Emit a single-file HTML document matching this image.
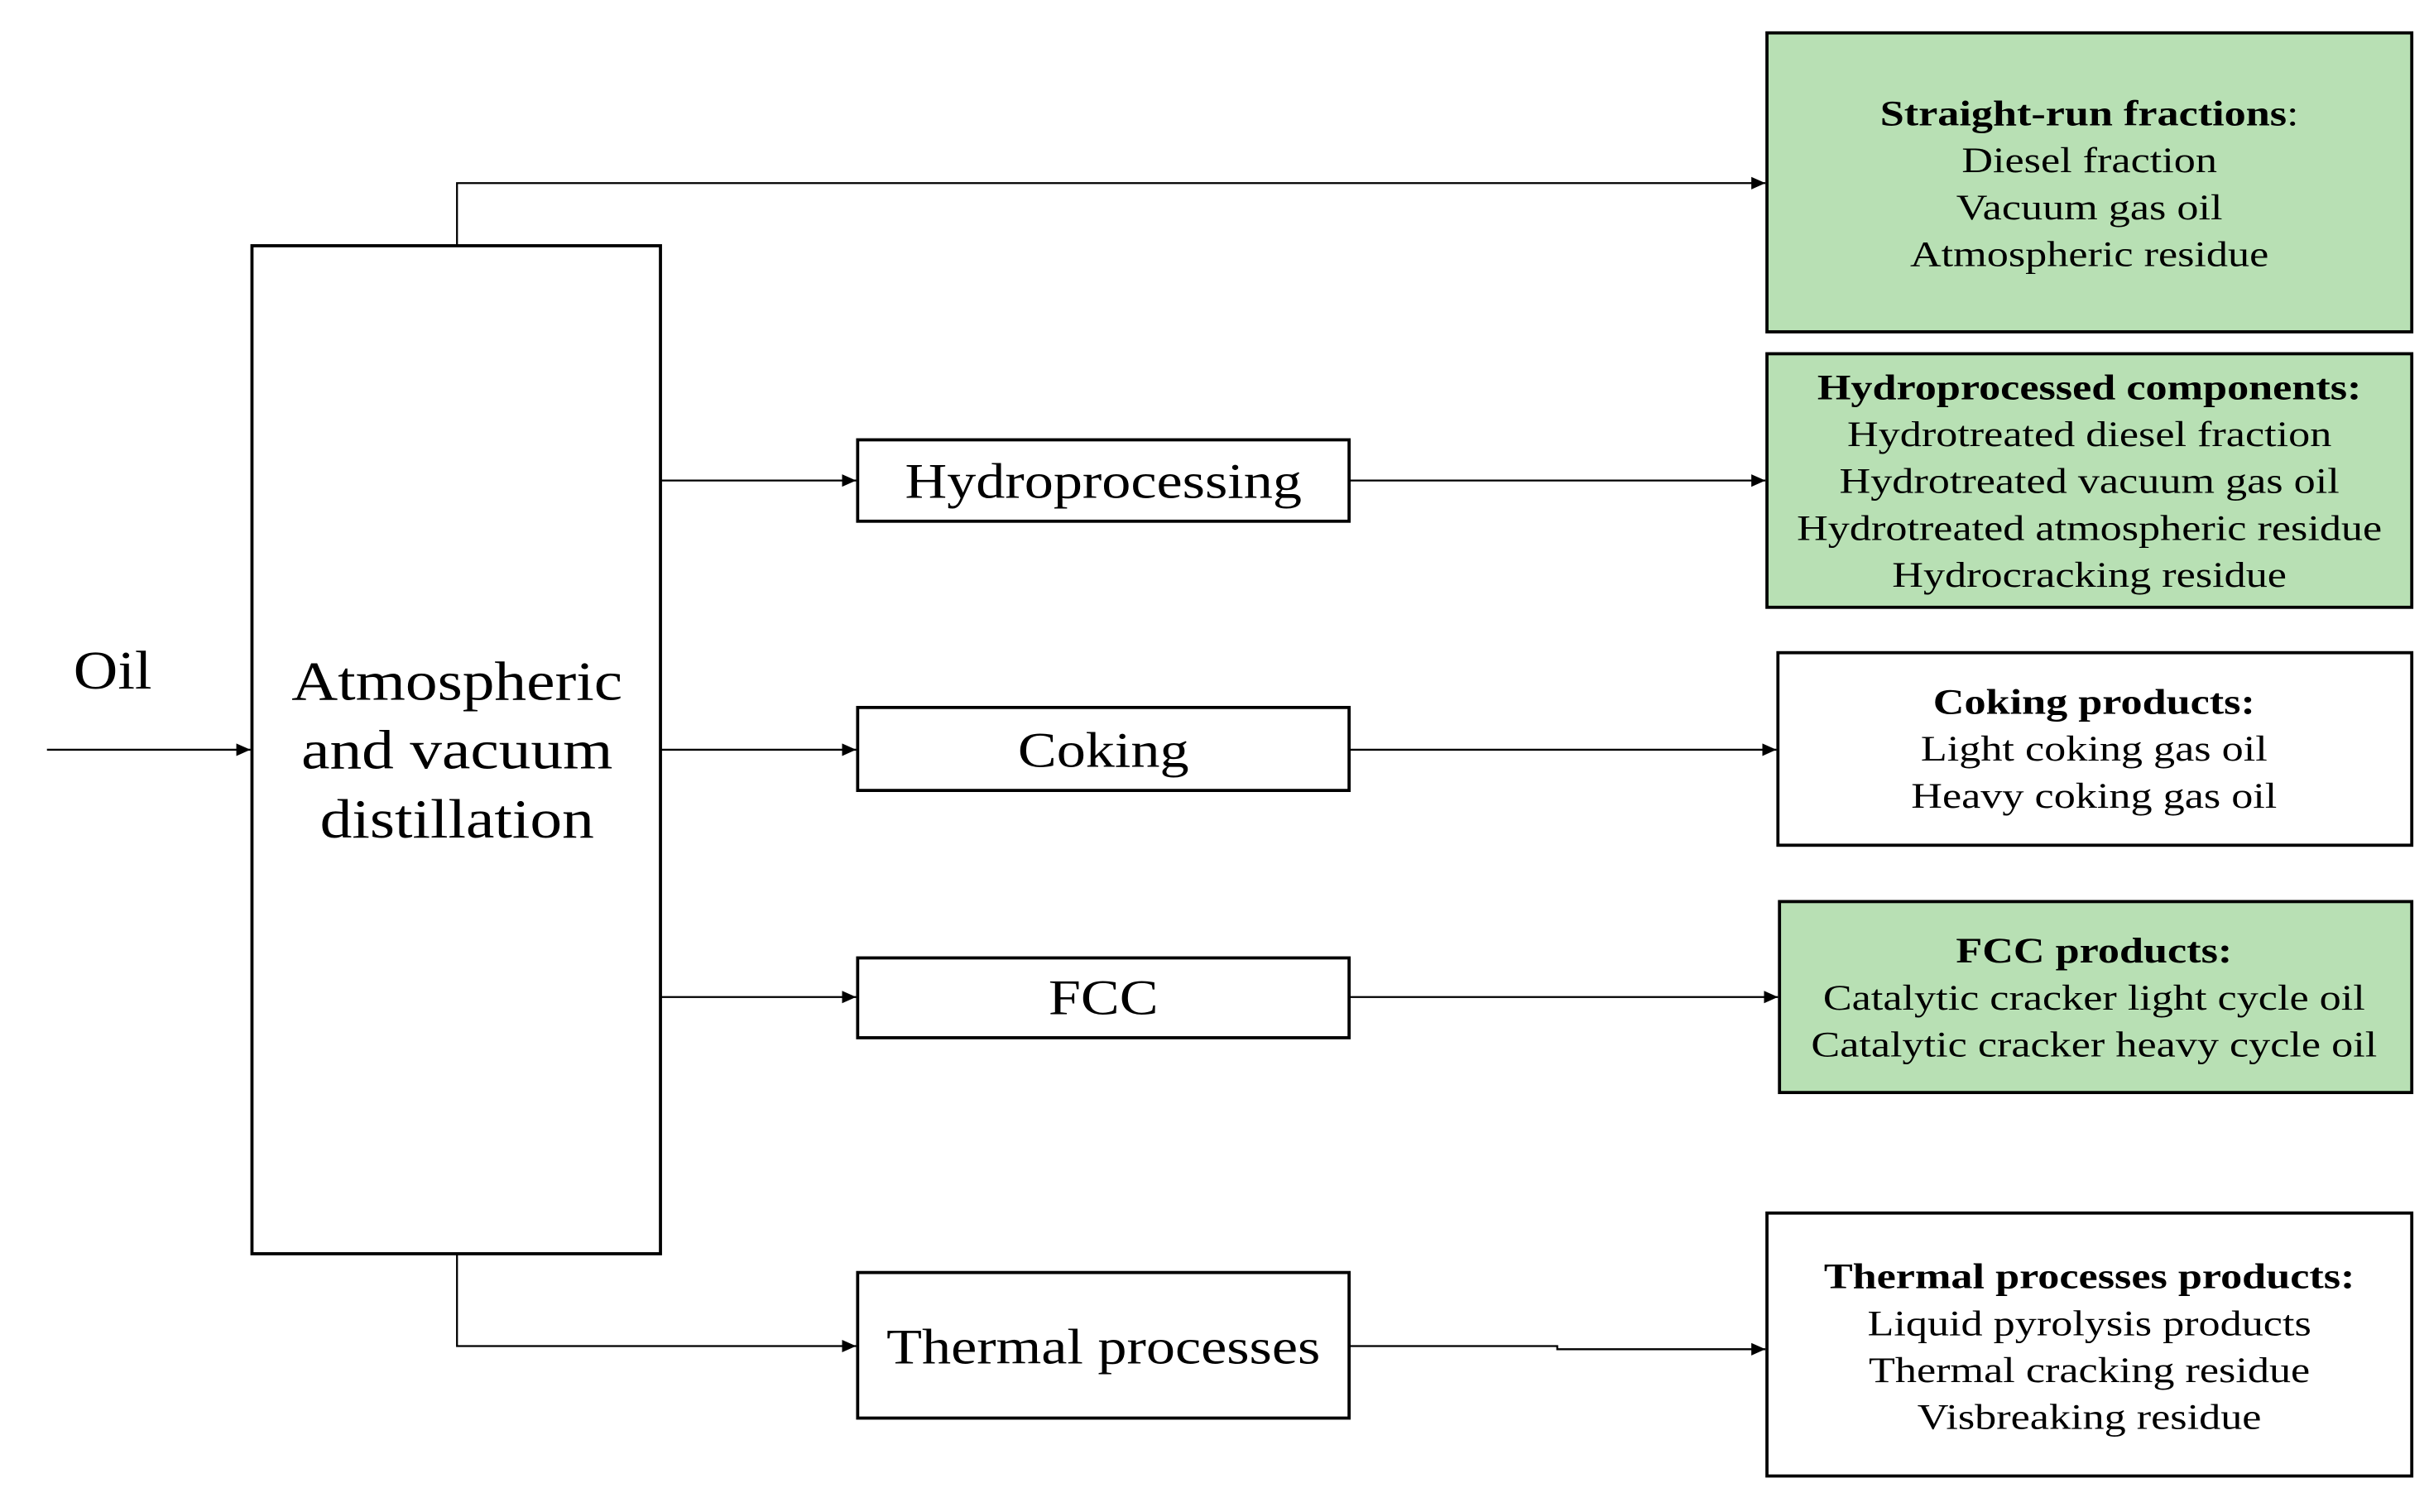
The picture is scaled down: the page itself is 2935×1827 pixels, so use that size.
<!DOCTYPE html>
<html><head><meta charset="utf-8"><style>html,body{margin:0;padding:0;background:#fff}svg{display:block}</style></head>
<body>
<svg width="2935" height="1827" viewBox="0 0 1552 966" preserveAspectRatio="none" xmlns="http://www.w3.org/2000/svg" font-family="'Liberation Serif', serif">
<defs><marker id="a" markerWidth="10" markerHeight="10" refX="9" refY="5" orient="auto" markerUnits="userSpaceOnUse"><path d="M0,1 L9,5 L0,9 z" fill="#000"/></marker></defs>
<g fill="none" stroke="#000" stroke-width="1.2">
<path d="M30,479 H160" marker-end="url(#a)"/>
<path d="M292,157 V117 H1128" marker-end="url(#a)"/>
<path d="M422,307 H547" marker-end="url(#a)"/>
<path d="M422,479 H547" marker-end="url(#a)"/>
<path d="M422,637 H547" marker-end="url(#a)"/>
<path d="M292,801 V860 H547" marker-end="url(#a)"/>
<path d="M862,307 H1128" marker-end="url(#a)"/>
<path d="M862,479 H1135" marker-end="url(#a)"/>
<path d="M862,637 H1136" marker-end="url(#a)"/>
<path d="M862,860 H995 V862 H1128" marker-end="url(#a)"/>
</g>
<g stroke="#000" stroke-width="2">
<rect x="161" y="157" width="261" height="644" fill="#fff"/>
<rect x="548" y="281" width="314" height="52" fill="#fff"/>
<rect x="548" y="452" width="314" height="53" fill="#fff"/>
<rect x="548" y="612" width="314" height="51" fill="#fff"/>
<rect x="548" y="813" width="314" height="93" fill="#fff"/>
<rect x="1129" y="21" width="412" height="191" fill="#b8e0b4"/>
<rect x="1129" y="226" width="412" height="162" fill="#b8e0b4"/>
<rect x="1136" y="417" width="405" height="123" fill="#fff"/>
<rect x="1137" y="576" width="404" height="122" fill="#b8e0b4"/>
<rect x="1129" y="775" width="412" height="168" fill="#fff"/>
</g>
<g fill="#000" text-anchor="middle">
<g transform="translate(72,0) scale(1.12,1)"><text x="0" y="440" font-size="35">Oil</text></g>
<g font-size="35" transform="translate(292,0) scale(1.17,1)"><text x="0" y="447">Atmospheric</text><text x="0" y="491">and vacuum</text><text x="0" y="535">distillation</text></g>
<g font-size="32" transform="translate(705,0) scale(1.16,1)">
<text x="0" y="318">Hydroprocessing</text>
<text x="0" y="490">Coking</text>
<text x="0" y="648">FCC</text>
<text x="0" y="871">Thermal processes</text>
</g>
<g font-size="23">
<g transform="translate(1335,0) scale(1.2,1)">
<text x="0" y="80"><tspan font-weight="bold">Straight-run fractions</tspan>:</text>
<text x="0" y="110">Diesel fraction</text><text x="0" y="140">Vacuum gas oil</text><text x="0" y="170">Atmospheric residue</text>
<text x="0" y="255" font-weight="bold">Hydroprocessed components:</text>
<text x="0" y="285">Hydrotreated diesel fraction</text><text x="0" y="315">Hydrotreated vacuum gas oil</text><text x="0" y="345">Hydrotreated atmospheric residue</text><text x="0" y="375">Hydrocracking residue</text>
<text x="0" y="823" font-weight="bold">Thermal processes products:</text>
<text x="0" y="853">Liquid pyrolysis products</text><text x="0" y="883">Thermal cracking residue</text><text x="0" y="913">Visbreaking residue</text>
</g>
<g transform="translate(1338,0) scale(1.2,1)">
<text x="0" y="456" font-weight="bold">Coking products:</text>
<text x="0" y="486">Light coking gas oil</text><text x="0" y="516">Heavy coking gas oil</text>
<text x="0" y="615" font-weight="bold">FCC products:</text>
<text x="0" y="645">Catalytic cracker light cycle oil</text><text x="0" y="675">Catalytic cracker heavy cycle oil</text>
</g>
</g>
</g>
</svg>
</body></html>
